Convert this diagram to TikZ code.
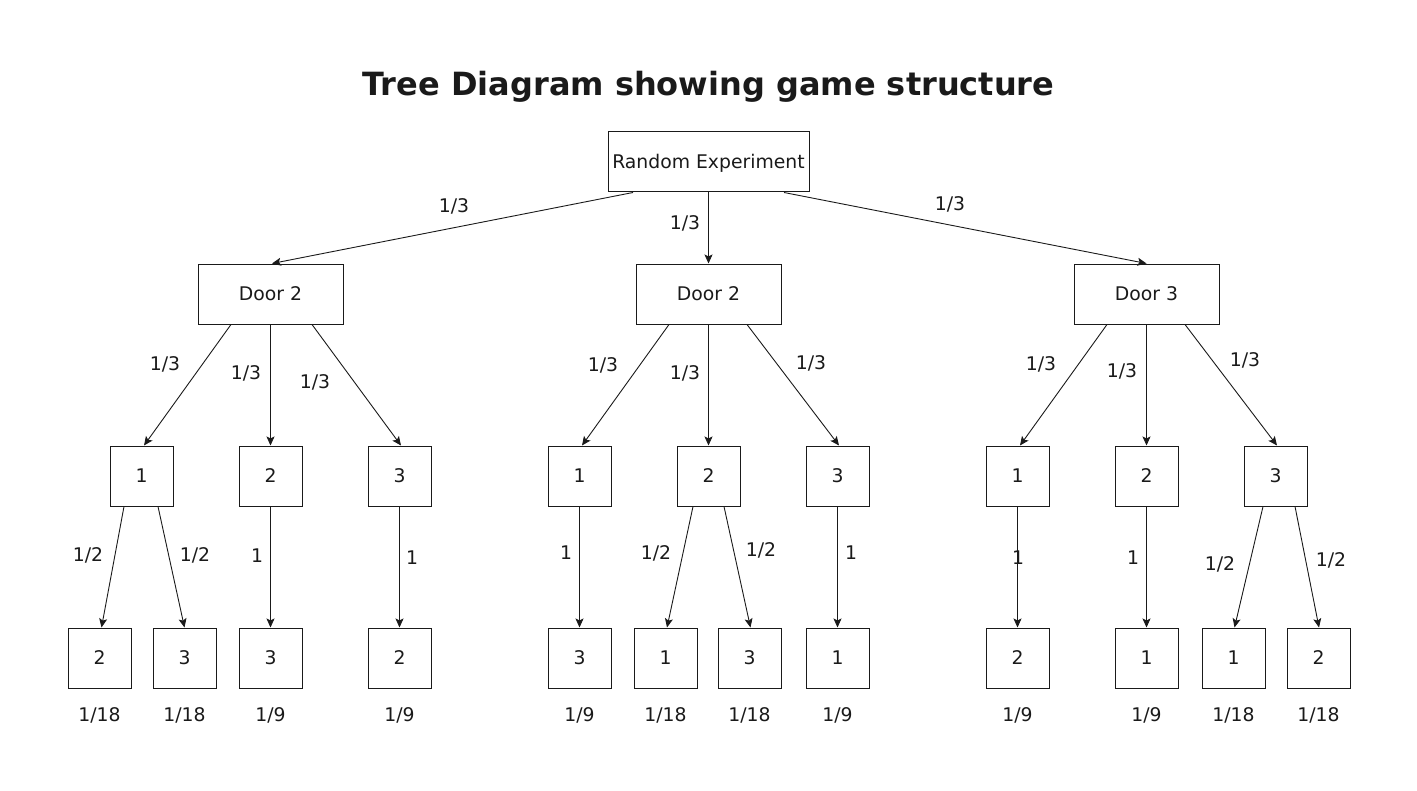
\documentclass[tikz,border=0pt]{standalone}
\usepackage{fontspec}
\setmainfont{DejaVu Sans}
\usetikzlibrary{arrows.meta,calc}
\definecolor{ink}{HTML}{1A1A1A}
\tikzset{
  box/.style={draw=ink,line width=0.5pt,inner sep=0pt,font=\fontsize{9.4}{11}\selectfont,text=ink,text height=6.9pt,text depth=0pt},
  rootbox/.style={box,minimum width=100.5pt,minimum height=30pt},
  doorbox/.style={box,minimum width=72.5pt,minimum height=30pt},
  leafbox/.style={box,minimum width=31.5pt,minimum height=30pt},
  lab/.style={inner sep=0pt,font=\fontsize{9.4}{11}\selectfont,text=ink,yshift=-0.5pt},
  arr/.style={draw=ink,line width=0.45pt,-{Stealth[length=4.5pt,width=4pt,inset=1pt]}}
}
\begin{document}
\begin{tikzpicture}[x=0.5pt,y=-0.5pt]
\useasboundingbox (0,0) rectangle (1417,791);
\node[font=\fontsize{16}{19}\selectfont\bfseries,text=ink] (title) at (708.5,87) {Tree Diagram showing game structure};
% level 0
\node[rootbox] (r) at (708.5,162) {Random Experiment};
% level 1
\node[doorbox] (dA) at (270.5,294) {Door 2};
\node[doorbox] (dB) at (708.5,294) {Door 2};
\node[doorbox] (dC) at (1146.5,294) {Door 3};
% level 2
\node[leafbox] (a1) at (141.5,476) {1};
\node[leafbox] (a2) at (270.5,476) {2};
\node[leafbox] (a3) at (399.5,476) {3};
\node[leafbox] (b1) at (579.5,476) {1};
\node[leafbox] (b2) at (708.5,476) {2};
\node[leafbox] (b3) at (837.5,476) {3};
\node[leafbox] (c1) at (1017.5,476) {1};
\node[leafbox] (c2) at (1146.5,476) {2};
\node[leafbox] (c3) at (1275.5,476) {3};
% level 3
\node[leafbox] (a1a) at (99.5,658) {2};
\node[leafbox] (a1b) at (184.5,658) {3};
\node[leafbox] (a2a) at (270.5,658) {3};
\node[leafbox] (a3a) at (399.5,658) {2};
\node[leafbox] (b1a) at (579.5,658) {3};
\node[leafbox] (b2a) at (665.5,658) {1};
\node[leafbox] (b2b) at (749.5,658) {3};
\node[leafbox] (b3a) at (837.5,658) {1};
\node[leafbox] (c1a) at (1017.5,658) {2};
\node[leafbox] (c2a) at (1146.5,658) {1};
\node[leafbox] (c3a) at (1233.5,658) {1};
\node[leafbox] (c3b) at (1318.5,658) {2};
% edges level 0 -> 1
\draw[arr] ($(r.south)+(-75.5,0)$) -- ($(dA.north)+(1.5,0)$);
\draw[arr] (r.south) -- (dB.north);
\draw[arr] ($(r.south)+(75.5,0)$) -- (dC.north);
% edges level 1 -> 2
\draw[arr] ($(dA.south)+(-39.5,0)$) -- ($(a1.north)+(2.5,0)$);
\draw[arr] (dA.south) -- (a2.north);
\draw[arr] ($(dA.south)+(41.5,0)$) -- ($(a3.north)+(1.5,0)$);
\draw[arr] ($(dB.south)+(-39.5,0)$) -- ($(b1.north)+(2.5,0)$);
\draw[arr] (dB.south) -- (b2.north);
\draw[arr] ($(dB.south)+(38.5,0)$) -- ($(b3.north)+(1.5,0)$);
\draw[arr] ($(dC.south)+(-39.5,0)$) -- ($(c1.north)+(2.5,0)$);
\draw[arr] (dC.south) -- (c2.north);
\draw[arr] ($(dC.south)+(38.5,0)$) -- ($(c3.north)+(1.5,0)$);
% edges level 2 -> 3
\draw[arr] ($(a1.south)+(-17.5,0)$) -- ($(a1a.north)+(2,0)$);
\draw[arr] ($(a1.south)+(16.5,0)$) -- (a1b.north);
\draw[arr] (a2.south) -- (a2a.north);
\draw[arr] (a3.south) -- (a3a.north);
\draw[arr] (b1.south) -- (b1a.north);
\draw[arr] ($(b2.south)+(-15.5,0)$) -- ($(b2a.north)+(1.5,0)$);
\draw[arr] ($(b2.south)+(15.5,0)$) -- ($(b2b.north)+(1,0)$);
\draw[arr] (b3.south) -- (b3a.north);
\draw[arr] (c1.south) -- (c1a.north);
\draw[arr] (c2.south) -- (c2a.north);
\draw[arr] ($(c3.south)+(-12.5,0)$) -- ($(c3a.north)+(1,0)$);
\draw[arr] ($(c3.south)+(19.5,0)$) -- ($(c3b.north)+(0.5,0)$);
% labels level 0 -> 1
\node[lab] (p0a) at (454,205) {1/3};
\node[lab] (p0b) at (685,222) {1/3};
\node[lab] (p0c) at (950,203) {1/3};
% labels level 1 -> 2
\node[lab] (p1a) at (165,363) {1/3};
\node[lab] (p1b) at (246,372) {1/3};
\node[lab] (p1c) at (315,381) {1/3};
\node[lab] (p1d) at (603,364) {1/3};
\node[lab] (p1e) at (685,372) {1/3};
\node[lab] (p1f) at (811,362) {1/3};
\node[lab] (p1g) at (1041,363) {1/3};
\node[lab] (p1h) at (1122,370) {1/3};
\node[lab] (p1i) at (1245,359) {1/3};
% labels level 2 -> 3
\node[lab] (p2a) at (88,554) {1/2};
\node[lab] (p2b) at (195,554) {1/2};
\node[lab] (p2c) at (257,555) {1};
\node[lab] (p2d) at (412,557) {1};
\node[lab] (p2e) at (566,552) {1};
\node[lab] (p2f) at (656,552) {1/2};
\node[lab] (p2g) at (761,549) {1/2};
\node[lab] (p2h) at (851,552) {1};
\node[lab] (p2i) at (1018,557) {1};
\node[lab] (p2j) at (1133,557) {1};
\node[lab] (p2k) at (1220,563) {1/2};
\node[lab] (p2l) at (1331,559) {1/2};
% final probabilities
\node[lab] (q1) at (99.5,714) {1/18};
\node[lab] (q2) at (184.5,714) {1/18};
\node[lab] (q3) at (270.5,714) {1/9};
\node[lab] (q4) at (399.5,714) {1/9};
\node[lab] (q5) at (579.5,714) {1/9};
\node[lab] (q6) at (665.5,714) {1/18};
\node[lab] (q7) at (749.5,714) {1/18};
\node[lab] (q8) at (837.5,714) {1/9};
\node[lab] (q9) at (1017.5,714) {1/9};
\node[lab] (q10) at (1146.5,714) {1/9};
\node[lab] (q11) at (1233.5,714) {1/18};
\node[lab] (q12) at (1318.5,714) {1/18};
\end{tikzpicture}
\end{document}
